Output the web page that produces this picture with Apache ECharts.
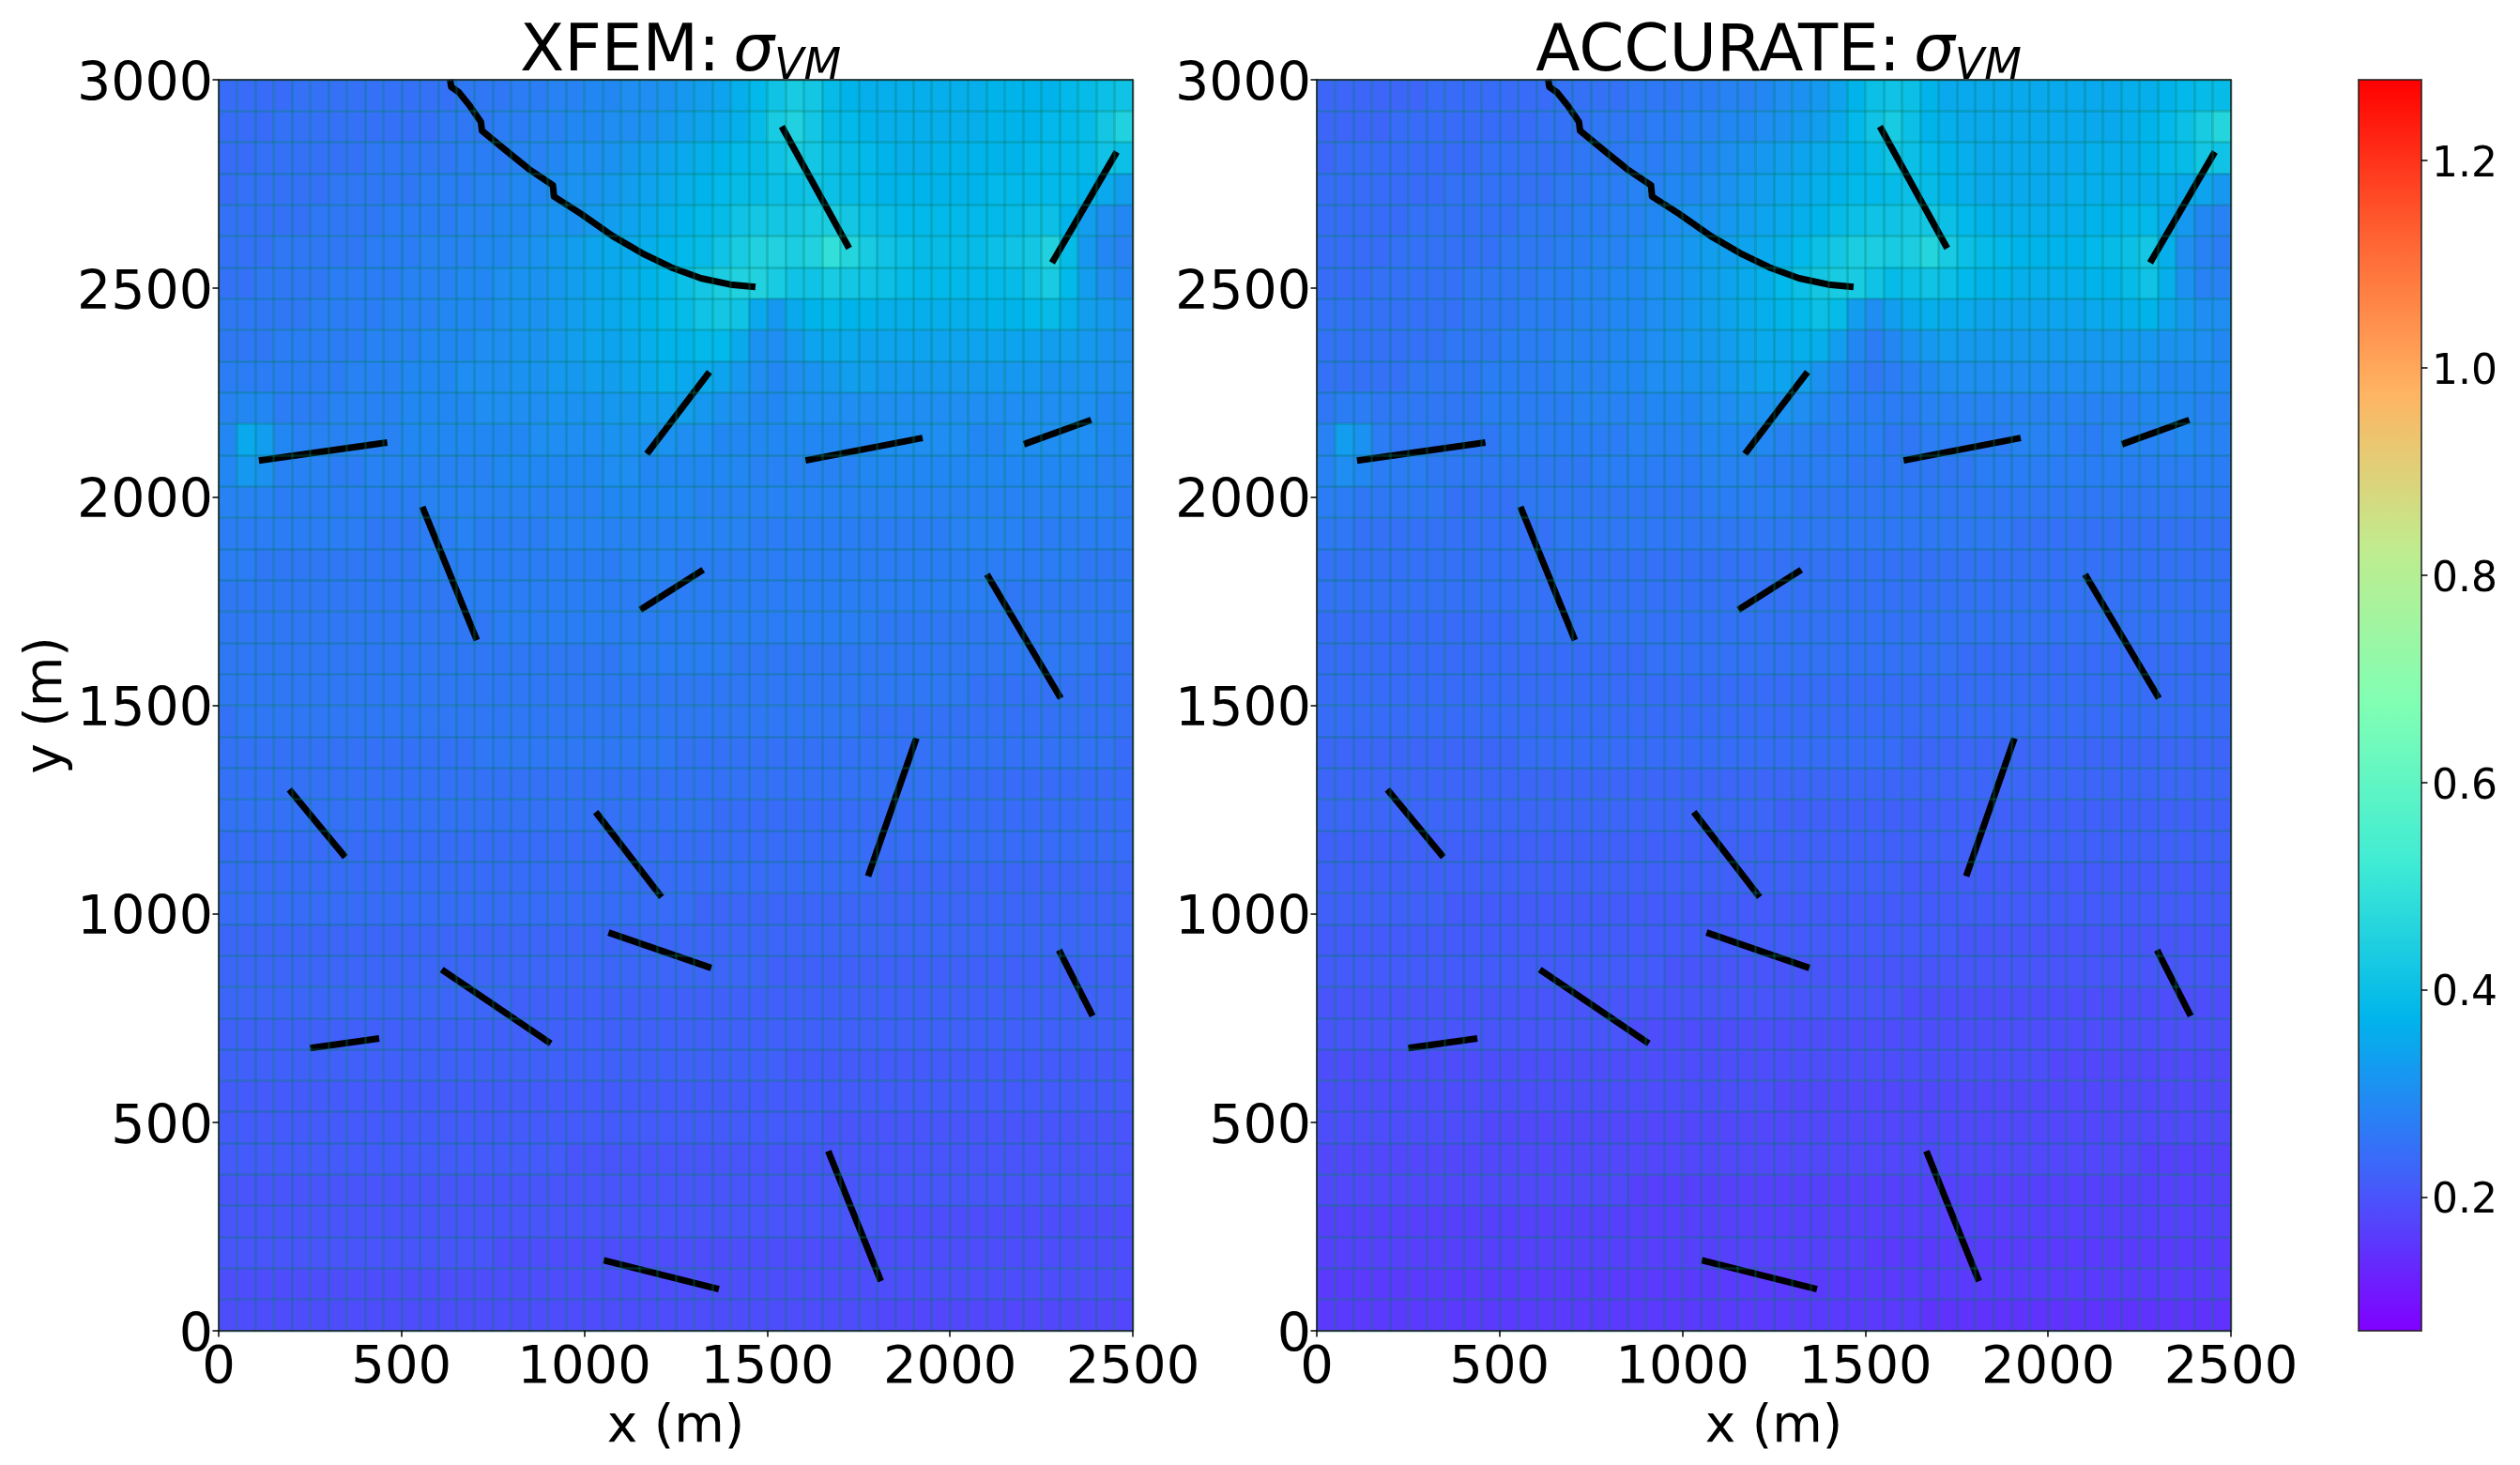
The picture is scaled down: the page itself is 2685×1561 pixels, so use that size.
<!DOCTYPE html>
<html>
<head>
<meta charset="utf-8">
<title>XFEM vs ACCURATE</title>
<style>
  html, body { margin: 0; padding: 0; background: #fff; }
  #chart { width: 2685px; height: 1561px; }
</style>
<script src="https://cdn.jsdelivr.net/npm/echarts@6/dist/echarts.min.js"></script>
</head>
<body>
<div id="chart"></div>
<script>
// von Mises stress, in hundredths, top row first (50 x 40 mesh cells)
const xfemField = [
  [24,24,24,24,25,25,25,25,25,25,25,25,25,26,26,26,27,27,28,28,29,29,30,30,31,32,33,34,36,38,41,43,42,39,37,36,36,36,36,36,36,36,37,37,37,37,38,39,40,41],
  [24,24,24,25,25,25,25,25,25,25,25,25,26,26,26,27,27,28,28,29,29,30,30,31,32,33,34,35,36,39,43,45,42,39,38,37,36,36,36,36,36,36,37,37,37,38,38,39,42,45],
  [24,24,25,25,25,25,25,25,26,26,26,26,26,27,27,27,28,28,29,30,30,31,32,33,34,35,36,37,38,39,41,43,42,40,39,38,37,36,36,37,37,37,37,37,38,38,38,39,41,40],
  [24,25,25,25,25,25,26,26,26,26,26,27,27,27,28,28,29,29,30,31,31,32,33,34,35,36,37,38,39,39,40,40,41,40,39,38,37,37,37,37,37,37,38,38,38,38,38,37,35,33],
  [25,25,25,25,25,26,26,26,26,27,27,27,27,28,28,29,29,30,31,31,32,33,34,35,36,37,38,39,41,42,42,42,43,44,42,40,39,38,38,38,38,38,38,39,40,40,37,33,30,29],
  [25,25,25,26,26,26,26,26,27,27,27,28,28,28,29,29,30,31,32,33,34,35,35,36,37,38,39,41,43,45,45,44,45,49,46,43,41,40,39,39,39,39,40,41,42,45,39,32,29,28],
  [25,25,26,26,26,26,27,27,27,27,28,28,28,29,29,30,31,31,32,33,34,35,36,37,38,40,42,44,45,45,43,41,41,43,42,41,40,39,38,38,38,38,38,39,41,43,38,33,30,29],
  [26,26,26,26,26,27,27,27,27,28,28,28,29,29,29,30,31,31,32,33,34,35,36,37,38,39,41,42,41,35,32,35,37,38,37,37,36,36,36,36,36,36,37,37,38,39,36,33,32,31],
  [26,26,26,27,27,27,27,27,28,28,28,29,29,29,30,30,31,31,32,33,34,34,35,36,37,37,38,38,35,31,30,32,34,35,35,34,34,34,34,34,34,34,34,34,34,33,33,32,31,30],
  [27,27,27,27,27,27,27,28,28,28,29,29,29,30,30,30,31,31,32,32,33,33,34,35,36,35,35,34,32,30,29,30,31,32,33,33,32,32,32,32,32,32,32,32,32,31,31,31,30,30],
  [28,29,29,27,27,27,28,28,28,28,29,29,29,29,30,30,30,30,31,31,31,32,32,33,33,33,32,31,30,29,29,30,30,30,30,30,30,30,30,30,30,30,30,30,30,30,30,30,29,29],
  [29,35,33,29,28,28,28,28,28,28,29,29,29,29,29,29,29,30,30,30,30,31,31,31,31,30,30,29,29,29,29,29,29,29,29,29,30,30,30,30,30,29,29,30,30,30,30,30,29,29],
  [29,32,31,28,28,28,27,27,28,28,28,28,28,28,28,29,29,29,29,29,29,30,30,29,29,29,29,29,29,28,28,28,28,28,28,29,29,29,29,29,29,29,29,29,29,29,29,29,28,28],
  [28,28,28,27,27,27,27,27,27,27,27,28,28,28,28,28,28,28,28,28,28,29,29,29,29,29,28,28,28,28,28,28,28,28,28,28,28,28,28,28,28,28,28,28,28,28,28,28,28,27],
  [27,27,27,27,27,27,27,27,26,26,26,27,27,28,27,27,27,27,28,28,28,28,28,28,28,28,28,28,28,27,27,27,27,27,27,27,27,27,27,27,28,28,28,28,27,27,27,27,27,27],
  [27,27,26,26,26,26,26,26,26,26,26,27,27,27,27,27,27,27,27,27,27,27,28,28,28,27,27,27,27,27,27,27,27,27,27,27,27,27,27,27,27,27,27,27,27,27,27,26,26,26],
  [26,26,26,26,26,26,26,26,26,26,26,26,26,27,27,27,27,27,27,27,27,27,27,27,27,27,27,27,27,27,27,27,27,27,27,27,27,27,27,27,27,27,27,26,26,26,26,26,26,26],
  [26,26,26,26,26,26,26,26,26,26,26,26,26,26,26,27,27,27,27,27,27,27,27,27,27,27,27,27,27,27,27,27,27,27,27,27,26,26,26,26,26,26,26,26,26,26,26,26,26,26],
  [26,26,26,26,26,26,26,26,26,26,26,26,26,26,26,26,26,26,26,26,26,26,27,27,27,27,27,27,26,26,26,26,26,26,26,26,26,26,26,26,26,26,26,26,26,26,26,26,25,25],
  [26,26,26,26,26,26,26,26,26,26,26,26,26,26,26,26,26,26,26,26,26,26,26,26,26,26,26,26,26,26,26,26,26,26,26,26,26,26,26,26,26,25,25,25,25,25,25,25,25,25],
  [25,26,26,26,26,26,26,26,26,26,26,26,26,26,26,26,26,26,26,26,26,26,26,26,26,26,26,26,26,26,26,26,26,26,26,25,25,25,25,25,25,25,25,25,25,25,25,25,25,25],
  [25,25,25,25,25,25,25,25,25,25,25,25,25,25,26,26,26,26,26,26,26,26,26,26,26,25,25,25,25,25,25,25,25,25,25,25,25,25,25,25,25,25,25,25,25,25,25,25,25,24],
  [25,25,25,25,25,25,25,25,25,25,25,25,25,25,25,25,25,25,25,25,25,25,25,25,25,25,25,25,25,25,25,25,25,25,25,25,25,25,25,25,24,24,24,24,24,24,24,24,24,24],
  [25,25,25,25,25,25,25,25,25,25,25,25,25,25,25,25,25,25,25,25,25,25,25,25,25,25,25,24,24,24,24,24,24,24,24,24,24,24,24,24,24,24,24,24,24,24,24,24,24,24],
  [24,24,24,24,24,24,24,24,24,24,24,24,24,24,24,24,24,24,24,24,24,24,24,24,24,24,24,24,24,24,24,24,24,24,24,24,24,24,24,24,24,24,24,24,24,24,24,24,24,24],
  [24,24,24,24,24,24,24,24,24,24,24,24,24,24,24,24,24,24,24,24,24,24,24,24,24,24,24,24,24,24,24,24,24,24,24,24,23,23,23,23,23,23,23,23,23,23,23,23,23,23],
  [24,24,24,24,24,24,24,24,24,24,24,24,24,24,24,24,24,24,24,24,24,24,24,24,24,24,23,23,23,23,23,23,23,23,23,23,23,23,23,23,23,23,23,23,23,23,23,23,23,23],
  [23,23,23,23,23,23,23,23,23,23,23,23,23,23,23,23,23,23,23,23,23,23,23,23,23,23,23,23,23,23,23,23,23,23,23,23,23,23,23,23,23,23,23,23,23,23,23,23,23,23],
  [23,23,23,23,23,23,23,23,23,23,23,23,23,23,23,23,23,23,23,23,23,23,23,23,23,23,23,23,23,23,22,22,22,22,22,22,22,22,22,22,22,22,22,22,22,22,22,22,22,22],
  [23,23,23,23,23,23,23,23,23,23,23,23,23,23,23,23,22,22,22,22,22,22,22,22,22,22,22,22,22,22,22,22,22,22,22,22,22,22,22,22,22,22,22,22,22,22,22,22,22,22],
  [22,22,22,22,22,22,22,22,22,22,22,22,22,22,22,22,22,22,22,22,22,22,22,22,22,22,22,22,22,22,22,22,22,22,22,22,22,22,22,22,22,22,22,22,22,22,22,22,22,22],
  [22,22,22,22,22,22,22,22,22,22,22,22,22,22,22,22,22,22,22,22,22,22,22,22,22,22,22,22,22,22,22,21,21,21,21,21,21,21,21,21,21,21,21,21,21,21,21,21,21,21],
  [21,21,21,21,21,21,21,21,21,21,21,21,21,21,21,21,21,21,21,21,21,21,21,21,21,21,21,21,21,21,21,21,21,21,21,21,21,21,21,21,21,21,21,21,21,21,21,21,21,21],
  [21,21,21,21,21,21,21,21,21,21,21,21,21,21,21,21,21,21,21,21,21,21,21,21,21,21,21,21,21,21,21,21,21,20,20,20,20,20,20,20,20,20,20,20,20,20,20,20,20,20],
  [21,21,21,21,21,21,21,21,21,21,21,21,21,21,21,21,21,21,21,20,20,20,20,20,20,20,20,20,20,20,20,20,20,20,20,20,20,20,20,20,20,20,20,20,20,20,20,20,20,20],
  [20,20,20,20,20,20,20,20,20,20,20,20,20,20,20,20,20,20,20,20,20,20,20,20,20,20,20,20,20,20,20,20,20,20,20,20,20,20,20,20,20,20,20,20,20,20,20,20,20,20],
  [20,20,20,20,20,20,20,20,20,20,20,20,20,20,20,20,20,20,20,20,20,20,20,20,20,20,20,20,20,20,20,20,20,20,20,20,19,19,19,19,19,19,19,19,19,19,19,19,19,19],
  [20,20,20,20,20,20,20,20,20,20,20,20,20,20,20,19,19,19,19,19,19,19,19,19,19,19,19,19,19,19,19,19,19,19,19,19,19,19,19,19,19,19,19,19,19,19,19,19,19,19],
  [19,19,19,19,19,19,19,19,19,19,19,19,19,19,19,19,19,19,19,19,19,19,19,19,19,19,19,19,19,19,19,19,19,19,19,19,19,19,19,19,19,19,19,19,19,19,19,19,19,19],
  [19,19,19,19,19,19,19,19,19,19,19,19,19,19,19,19,19,19,19,19,19,19,19,19,19,19,19,19,19,19,19,19,19,19,19,19,18,18,18,18,18,18,18,18,18,18,18,18,18,18]
];

const accurateField = [
  [23,23,23,23,23,23,24,24,24,24,24,24,24,25,25,25,25,26,26,26,27,27,28,28,29,30,31,32,34,37,40,41,40,37,35,35,35,35,35,35,35,35,35,35,36,36,37,38,39,39],
  [23,23,23,23,24,24,24,24,24,24,24,24,25,25,25,26,26,26,27,27,28,28,29,29,30,31,32,33,35,38,41,43,40,37,36,35,35,35,35,35,35,35,35,35,36,37,38,40,43,46],
  [23,24,24,24,24,24,24,24,24,25,25,25,25,25,26,26,26,27,27,28,28,29,30,31,32,33,34,35,36,37,39,41,40,38,37,36,35,35,35,35,35,35,36,36,36,37,38,39,42,41],
  [24,24,24,24,24,24,24,25,25,25,25,25,25,26,26,27,27,28,28,29,29,30,31,32,33,34,35,36,37,38,38,39,40,39,37,36,35,35,35,35,35,36,36,36,36,36,36,35,34,32],
  [24,24,24,24,24,25,25,25,25,25,25,26,26,26,27,27,28,28,29,30,31,31,32,33,34,35,36,37,39,40,41,41,42,42,40,38,37,36,36,36,36,36,37,37,38,38,35,32,29,28],
  [24,24,24,24,25,25,25,25,25,25,26,26,26,27,27,28,28,29,30,31,32,33,33,34,35,36,38,40,42,44,44,43,44,46,43,40,39,38,37,37,37,37,38,39,40,42,36,30,28,27],
  [24,24,24,25,25,25,25,25,26,26,26,26,27,27,28,28,29,29,30,31,32,33,34,35,36,38,40,42,43,43,41,39,40,41,40,38,37,37,36,36,36,36,37,37,39,41,36,31,28,28],
  [25,25,25,25,25,25,25,25,26,26,26,27,27,27,28,28,29,29,30,31,32,33,34,35,36,37,38,40,39,33,30,33,35,36,35,35,34,34,34,34,34,34,35,35,36,37,34,32,30,30],
  [25,25,25,25,25,25,25,26,26,26,27,27,27,28,28,28,29,29,30,31,32,32,33,34,35,35,36,36,33,29,27,29,31,32,33,32,32,32,32,32,32,32,32,32,32,32,31,31,30,29],
  [25,25,25,25,25,26,26,26,26,27,27,27,27,28,28,28,29,29,30,30,31,31,32,33,34,34,33,31,29,27,26,27,28,29,30,30,30,30,30,30,30,30,30,30,30,30,29,29,29,29],
  [26,27,27,26,26,26,26,26,26,27,27,27,27,27,28,28,28,28,29,29,29,30,30,31,31,31,30,29,28,27,27,27,27,28,28,28,28,28,28,28,28,28,28,28,28,29,29,29,28,28],
  [28,33,31,27,26,26,26,26,26,26,27,27,27,27,27,27,27,28,28,28,28,29,29,29,29,28,28,27,27,27,27,26,26,27,27,27,27,27,28,28,28,27,27,28,28,28,28,29,28,28],
  [28,30,29,27,27,27,26,26,26,26,26,26,26,26,26,27,27,27,27,27,27,28,28,28,27,27,27,27,27,26,26,26,26,26,26,26,27,27,27,27,27,27,27,27,27,27,27,27,27,27],
  [27,27,26,26,26,26,26,25,25,25,25,26,26,26,26,26,26,26,26,26,26,27,27,27,27,27,26,26,26,26,26,26,26,26,26,26,26,26,26,26,26,26,26,26,26,26,26,26,26,26],
  [26,26,25,25,25,25,25,25,25,25,25,25,25,26,26,26,26,26,26,26,26,26,26,26,26,26,26,26,26,26,26,26,26,26,26,26,26,26,25,25,25,25,25,25,25,25,25,25,25,25],
  [25,25,25,25,25,25,25,25,25,25,25,25,25,25,25,25,25,25,25,25,25,25,25,25,25,25,25,25,25,25,25,25,25,25,25,25,25,25,25,25,25,25,25,25,25,25,25,25,25,25],
  [25,25,25,25,25,25,25,25,25,25,25,25,25,25,25,25,25,25,25,25,25,25,25,25,25,25,25,25,25,25,25,25,25,25,25,25,25,25,25,25,25,25,25,25,25,25,25,25,25,25],
  [24,24,24,24,24,24,24,24,24,24,24,25,25,25,25,25,25,25,25,25,25,25,25,25,25,25,25,25,25,25,25,25,25,25,25,25,25,25,25,25,25,25,25,25,25,25,25,25,25,25],
  [24,24,24,24,24,24,24,24,24,24,24,24,24,24,24,24,24,24,25,25,25,25,25,25,25,25,25,25,25,25,25,25,25,25,25,24,24,24,24,24,24,24,24,24,24,24,24,24,24,24],
  [24,24,24,24,24,24,24,24,24,24,24,24,24,24,24,24,24,24,24,24,24,24,24,24,24,24,24,24,24,24,24,24,24,24,24,24,24,24,24,24,24,24,24,24,24,24,24,24,24,24],
  [24,24,24,24,24,24,24,24,24,24,24,24,24,24,24,24,24,24,24,24,24,24,24,24,24,24,24,24,24,24,24,24,24,24,24,24,24,24,24,24,24,24,24,24,24,24,24,24,24,24],
  [23,23,23,23,23,23,23,23,23,23,23,24,24,24,24,24,24,24,24,24,24,24,24,24,24,24,24,24,24,24,24,24,23,23,23,23,23,23,23,23,23,23,23,23,23,23,23,23,23,23],
  [23,23,23,23,23,23,23,23,23,23,23,23,23,23,23,23,23,23,23,23,23,23,23,23,23,23,23,23,23,23,23,23,23,23,23,23,23,23,23,23,23,23,23,23,23,23,23,23,23,23],
  [23,23,23,23,23,23,23,23,23,23,23,23,23,23,23,23,23,23,23,23,23,23,23,23,23,22,22,22,22,22,22,22,22,22,22,22,22,22,22,22,22,22,22,22,22,22,22,22,22,22],
  [22,22,22,22,22,22,22,22,22,22,22,22,22,22,22,22,22,22,22,22,22,22,22,22,22,22,22,22,22,22,22,22,22,22,22,22,22,22,22,22,22,22,22,22,22,22,22,22,22,22],
  [22,22,22,22,22,22,22,22,22,22,22,22,22,22,22,22,22,22,22,22,22,22,22,22,22,22,22,22,22,22,22,22,21,21,21,21,21,21,21,21,21,21,21,21,21,21,21,21,21,21],
  [22,22,22,22,22,22,22,21,21,21,21,21,21,21,21,21,21,21,21,21,21,21,21,21,21,21,21,21,21,21,21,21,21,21,21,21,21,21,21,21,21,21,21,21,21,21,21,21,21,21],
  [21,21,21,21,21,21,21,21,21,21,21,21,21,21,21,21,21,21,21,21,21,21,21,21,21,21,21,21,21,21,21,21,21,21,21,20,20,20,20,20,20,20,20,20,20,20,20,20,20,20],
  [21,21,21,21,21,21,21,21,21,21,21,21,21,21,21,21,21,21,21,20,20,20,20,20,20,20,20,20,20,20,20,20,20,20,20,20,20,20,20,20,20,20,20,20,20,20,20,20,20,20],
  [20,20,20,20,20,20,20,20,20,20,20,20,20,20,20,20,20,20,20,20,20,20,20,20,20,20,20,20,20,20,20,20,19,19,19,19,19,19,19,19,19,19,19,19,19,19,19,19,19,19],
  [20,20,20,20,20,20,20,20,20,20,20,20,20,20,20,20,20,19,19,19,19,19,19,19,19,19,19,19,19,19,19,19,19,19,19,19,19,19,19,19,19,19,19,19,19,19,19,19,19,19],
  [19,19,19,19,19,19,19,19,19,19,19,19,19,19,19,19,19,19,19,19,19,19,19,19,19,19,19,19,19,19,19,19,19,19,19,19,19,19,19,19,18,18,18,18,18,18,18,18,18,18],
  [19,19,19,19,19,19,19,19,19,19,19,19,19,19,19,19,19,19,19,19,19,19,19,19,19,18,18,18,18,18,18,18,18,18,18,18,18,18,18,18,18,18,18,18,18,18,18,18,18,18],
  [19,19,19,19,19,19,19,19,19,18,18,18,18,18,18,18,18,18,18,18,18,18,18,18,18,18,18,18,18,18,18,18,18,18,18,18,18,18,18,18,18,18,18,18,18,18,18,18,18,18],
  [18,18,18,18,18,18,18,18,18,18,18,18,18,18,18,18,18,18,18,18,18,18,18,18,18,18,18,18,18,18,18,18,18,18,18,18,18,18,18,18,18,18,18,18,18,17,17,17,17,17],
  [18,18,18,18,18,18,18,18,18,18,18,18,18,18,18,18,18,17,17,17,17,17,17,17,17,17,17,17,17,17,17,17,17,17,17,17,17,17,17,17,17,17,17,17,17,17,17,17,17,17],
  [17,17,17,17,17,17,17,17,17,17,17,17,17,17,17,17,17,17,17,17,17,17,17,17,17,17,17,17,17,17,17,17,17,17,17,17,17,17,17,17,17,17,17,17,17,17,17,17,17,17],
  [17,17,17,17,17,17,17,17,17,17,17,17,17,17,17,17,17,17,17,17,17,17,17,17,17,17,17,17,17,17,16,16,16,16,16,16,16,16,16,16,16,16,16,16,16,16,16,16,16,16],
  [16,16,16,16,16,16,16,16,16,16,16,16,16,16,16,16,16,16,16,16,16,16,16,16,16,16,16,16,16,16,16,16,16,16,16,16,16,16,16,16,16,16,16,16,16,16,16,16,16,16],
  [16,16,16,16,16,16,16,16,16,16,16,16,16,16,16,16,16,16,16,16,16,16,16,16,16,16,16,16,16,16,16,16,16,15,15,15,15,15,15,15,15,15,15,15,15,15,15,15,15,15]
];

// crack traces in metres, the same in both panels
const curvedCrack = [[633,3000],[636,2983],[657,2970],[688,2936],[717,2899],[720,2878],[779,2835],[848,2786],[914,2747],[917,2720],[992,2678],[1078,2625],[1158,2584],[1238,2550],[1319,2524],[1399,2509],[1468,2503]];
const straightCracks = [
  [[1540,2888],[1724,2596]],
  [[2456,2827],[2279,2561]],
  [[1342,2299],[1171,2103]],
  [[110,2087],[461,2130]],
  [[1605,2087],[1925,2141]],
  [[2202,2126],[2386,2184]],
  [[557,1976],[706,1656]],
  [[1153,1729],[1325,1825]],
  [[2101,1814],[2303,1517]],
  [[1908,1421],[1776,1090]],
  [[193,1298],[346,1136]],
  [[1031,1244],[1211,1040]],
  [[1066,955],[1347,870]],
  [[2298,913],[2390,755]],
  [[610,866],[908,689]],
  [[250,678],[439,701]],
  [[1667,431],[1811,119]],
  [[1053,169],[1368,100]]
];

const colorbarTicks = [0.2, 0.4, 0.6, 0.8, 1.0, 1.2];
const colorbarMin = 0.0715;
const colorbarMax = 1.278;
// matplotlib rainbow
const rainbow = ['#8000ff', '#4062fa', '#00b5eb', '#40ecd4', '#80ffb4', '#c0ec8e', '#ffb462', '#ff6232', '#ff0000'];

const FONT = 'DejaVu Sans';
const TOP = 85;
const HEIGHT = 1333;
const WIDTH = 974;
const LEFT_A = 233;
const LEFT_B = 1403;
const FRAME = '#1c1c1c';
const MESH = 'rgba(0,120,100,0.32)';

const grids = [];
const xAxes = [];
const yAxes = [];
const series = [];
const titles = [];

function frameAxis(gridIndex, position, min, max) {
  return {
    type: 'value', gridIndex, position, min, max, z: 5, silent: true,
    axisLine: { show: true, onZero: false, lineStyle: { color: FRAME, width: 1.5 } },
    axisTick: { show: false }, axisLabel: { show: false }, splitLine: { show: false }
  };
}

function tickAxis(gridIndex, position, min, max, labelExtra, extra) {
  return Object.assign({
    type: 'value', gridIndex, position, min, max, interval: 500, z: 5, silent: true,
    axisLine: { show: true, onZero: false, lineStyle: { color: FRAME, width: 1.5 } },
    axisTick: { show: true, length: 6.5, lineStyle: { color: '#000', width: 1.5 } },
    axisLabel: Object.assign({
      show: true, showMinLabel: true, showMaxLabel: true, hideOverlap: false, color: '#000',
      fontFamily: FONT, fontSize: 56, formatter: (v) => String(v)
    }, labelExtra),
    splitLine: { show: false },
    nameTextStyle: { color: '#000', fontFamily: FONT, fontSize: 55 }
  }, extra);
}

function addPanel(left, field, label, withYName) {
  const heatGrid = grids.length;
  const lineGrid = heatGrid + 1;
  const rows = field.length;
  grids.push({ left, top: TOP, width: WIDTH, height: HEIGHT });
  grids.push({ left, top: TOP, width: WIDTH, height: HEIGHT });

  // category axes carry the heatmap cells, their split lines are the mesh
  const meshAxis = (data, gridIndex) => ({
    type: 'category', gridIndex, data, z: 3, silent: true, boundaryGap: true,
    axisLine: { show: false }, axisTick: { show: false }, axisLabel: { show: false },
    splitLine: { show: true, interval: 0, lineStyle: { color: MESH, width: 2.5 } }
  });
  const heatX = xAxes.length;
  const heatY = yAxes.length;
  xAxes.push(meshAxis(field[0].map((v, i) => i), heatGrid));
  yAxes.push(meshAxis(field.map((v, i) => i), heatGrid));

  const cells = [];
  field.forEach((row, r) => row.forEach((v, c) => cells.push([c, rows - 1 - r, v / 100])));
  series.push({
    type: 'heatmap', xAxisIndex: heatX, yAxisIndex: heatY, data: cells, z: 1, silent: true,
    progressive: 0, animation: false
  });

  const lineX = xAxes.length;
  const lineY = yAxes.length;
  xAxes.push(tickAxis(lineGrid, 'bottom', 0, 2500, { margin: 12 }, { name: 'x (m)', nameLocation: 'middle', nameGap: 76 }));
  xAxes.push(frameAxis(lineGrid, 'top', 0, 2500));
  // top alignment with a short line height drops the digits onto the tick centre
  yAxes.push(tickAxis(lineGrid, 'left', 0, 3000, { margin: 6, fontSize: 57, verticalAlign: 'top', lineHeight: 14 },
    withYName ? { name: 'y (m)', nameLocation: 'middle', nameGap: 154, nameRotate: 90 } : {}));
  yAxes.push(frameAxis(lineGrid, 'right', 0, 3000));

  [curvedCrack].concat(straightCracks).forEach((crack) => {
    series.push({
      type: 'line', xAxisIndex: lineX, yAxisIndex: lineY, data: crack, z: 2, silent: true,
      showSymbol: false, symbol: 'none', animation: false,
      lineStyle: { color: '#000', width: 7, cap: 'butt', join: 'round' }
    });
  });

  titles.push({
    left: left + WIDTH / 2,
    top: 12,
    textAlign: 'center',
    text: '{a|' + label + ':}{s|σ}{v|VM}',
    textStyle: {
      rich: {
        a: { fontFamily: FONT, fontSize: 69, fontWeight: 'normal', color: '#000', lineHeight: 80 },
        s: { fontFamily: FONT, fontSize: 69, fontWeight: 'normal', color: '#000', lineHeight: 80, fontStyle: 'italic', padding: [0, 0, 0, 14] },
        v: { fontFamily: FONT, fontSize: 46, fontWeight: 'normal', color: '#000', lineHeight: 36, fontStyle: 'italic', verticalAlign: 'bottom', padding: [0, 0, 2, 0] }
      }
    }
  });
}

addPanel(LEFT_A, xfemField, 'XFEM', true);
addPanel(LEFT_B, accurateField, 'ACCURATE', false);

// colourbar frame and ticks sit on their own grid above the visualMap strip
const barGrid = grids.length;
grids.push({ left: 2513, top: TOP, width: 67, height: HEIGHT });
xAxes.push(frameAxis(barGrid, 'bottom', 0, 1));
xAxes.push(frameAxis(barGrid, 'top', 0, 1));
yAxes.push(frameAxis(barGrid, 'left', colorbarMin, colorbarMax));
yAxes.push({
  type: 'value', gridIndex: barGrid, position: 'right', min: colorbarMin, max: colorbarMax, z: 5, silent: true,
  axisLine: { show: true, onZero: false, lineStyle: { color: FRAME, width: 1.5 } },
  axisTick: { show: true, length: 6.5, customValues: colorbarTicks, lineStyle: { color: '#000', width: 1.5 } },
  axisLabel: {
    show: true, customValues: colorbarTicks, margin: 11, verticalAlign: 'top', lineHeight: 10, color: '#000', fontFamily: FONT, fontSize: 44,
    formatter: (v) => v.toFixed(1)
  },
  splitLine: { show: false }
});

const chart = echarts.init(document.getElementById('chart'), null, { renderer: 'canvas' });
chart.setOption({
  backgroundColor: '#fff',
  animation: false,
  textStyle: { fontFamily: FONT },
  title: titles,
  grid: grids,
  xAxis: xAxes,
  yAxis: yAxes,
  visualMap: {
    type: 'continuous',
    min: colorbarMin,
    max: colorbarMax,
    dimension: 2,
    seriesIndex: series.map((s, i) => (s.type === 'heatmap' ? i : -1)).filter((i) => i >= 0),
    calculable: false,
    hoverLink: false,
    left: 2513,
    top: TOP,
    padding: 0,
    itemWidth: 67,
    itemHeight: HEIGHT,
    text: null,
    showLabel: false,
    inRange: { color: rainbow }
  },
  series
});
</script>
</body>
</html>
